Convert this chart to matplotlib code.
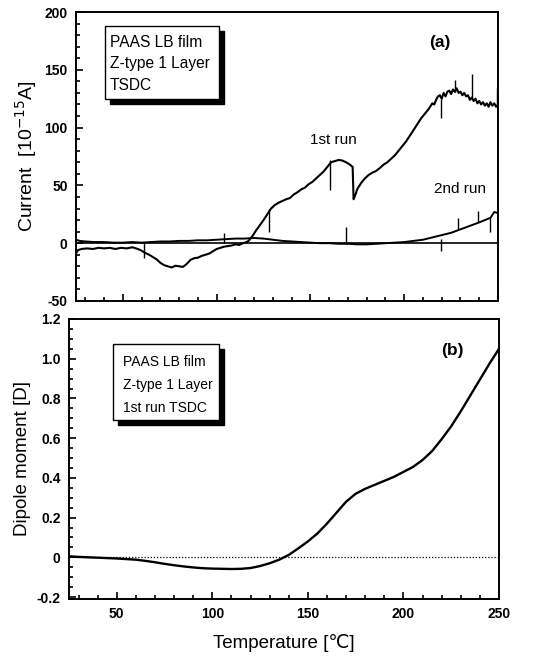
import numpy as np
import matplotlib
matplotlib.use('Agg')
import matplotlib.pyplot as plt
from matplotlib.patches import Rectangle
from matplotlib.ticker import MultipleLocator, FuncFormatter

plt.rcParams['font.family'] = ['Liberation Sans', 'DejaVu Sans']
plt.rcParams['axes.unicode_minus'] = False

# (a) TSDC current, 1st run
run1_T = [25, 26, 28, 31, 34, 37, 40, 43, 46, 49, 52, 55, 58, 60, 62, 64, 66, 68, 70, 72,
          74, 76, 78, 80, 82, 84, 86, 88, 90, 92, 94, 96, 98, 100, 102, 104, 106, 108, 110, 112,
          114, 116, 117, 119, 121, 123, 125, 127, 129, 131, 133, 135, 137, 139, 141, 143, 145, 147, 149, 151,
          153, 155, 157, 159, 161, 163, 165, 167, 169, 171, 172.5, 173, 174, 175, 177, 179, 181, 183, 185, 187,
          189, 191, 193, 195, 197, 199, 201, 203, 205, 207, 209, 211, 213, 215, 216, 217, 218, 219, 220, 221,
          222, 223, 224, 225, 226, 227, 228, 229, 230, 231, 232, 233, 234, 235, 236, 237, 238, 239, 240, 241,
          242, 243, 244, 245, 246, 247, 248, 249, 250]
run1_I = [-9, -6, -5, -4.5, -5, -4, -4.5, -4, -5, -4, -4.5, -3.5, -5, -6.5, -8.5, -10, -12, -14, -17, -19,
          -20, -21, -19.5, -20, -20.5, -18, -14.5, -13, -12.5, -11, -10, -9, -7, -5, -4, -3, -2.5, -2, -1, -1.5,
          0, 1, 2, 6, 11, 15.5, 20, 25, 30, 33, 35, 36.5, 38, 39, 42, 44, 46.5, 48, 51, 53,
          56, 59, 62, 66, 70, 71, 72, 71.5, 70, 68, 66, 38, 42, 47, 52, 56, 59, 61, 62.5, 65,
          68, 70, 73, 76, 80, 84, 88, 93, 98, 103, 108, 112, 116, 121, 120, 124, 127, 128, 125, 130,
          127, 131, 132, 129, 133, 131, 134, 130, 131, 128, 130, 127, 128, 124, 126, 123, 125, 121, 123, 120,
          122, 119, 121, 118, 122, 119, 121, 118, 120]

# (a) TSDC current, 2nd run
run2_T = [25, 27, 30, 35, 40, 45, 50, 55, 60, 65, 70, 75, 80, 85, 90, 95, 100, 105, 110, 115,
          120, 125, 130, 135, 140, 145, 150, 155, 160, 165, 170, 175, 180, 185, 190, 195, 200, 205, 210, 215,
          220, 225, 230, 235, 240, 243, 246, 248, 250]
run2_I = [3, 2, 1.5, 1, 1, 0.5, 0.5, 1, 0.5, 1, 1.5, 1.5, 2, 2, 2.5, 2.5, 3, 3.5, 4, 4,
          4.5, 4, 3, 2, 1.5, 1, 0.5, 0, 0, -0.5, -0.5, -1, -1, -0.5, 0, 0.5, 1, 2, 3, 5,
          7, 9, 12, 15, 18, 20, 22, 27, 26]

# noise spikes
spike_T = [61, 104, 128, 160.3, 169.2, 219.8, 219.8, 227, 228.7, 236, 239.4, 245.5, 249.6]
spike_lo = [-13, 0, 10, 46, -1, 108, -7, 131, 12, 125, 18, 10, 120]
spike_hi = [1, 9, 30, 72, 14, 125, 4, 141, 22, 146, 28, 22, 134]

# (b) dipole moment
dip_T = [25, 30, 35, 40, 45, 50, 55, 60, 65, 70, 75, 80, 85, 90, 95, 100, 105, 110, 115, 120,
         125, 130, 135, 140, 145, 150, 155, 160, 165, 170, 175, 180, 185, 190, 195, 200, 205, 210, 215, 220,
         225, 230, 235, 240, 245, 250]
dip_D = [0.005, 0.002, 0.0, -0.002, -0.004, -0.006, -0.009, -0.012, -0.018, -0.025, -0.033, -0.040, -0.046,
         -0.051, -0.055, -0.057, -0.058, -0.059, -0.058, -0.054, -0.044, -0.030, -0.012, 0.012, 0.045, 0.080,
         0.120, 0.170, 0.225, 0.280, 0.320, 0.345, 0.365, 0.385, 0.405, 0.430, 0.455, 0.490, 0.535, 0.595,
         0.660, 0.735, 0.815, 0.895, 0.975, 1.050]

box_a = ['PAAS LB film', 'Z-type 1 Layer', 'TSDC']
box_b = ['PAAS LB film', 'Z-type 1 Layer', '1st run TSDC']

W, H = 538, 656
fig = plt.figure(figsize=(W / 100, H / 100), dpi=100)

def px_axes(l, t, r, b):
    return fig.add_axes([l / W, 1 - b / H, (r - l) / W, (b - t) / H])

ax1 = px_axes(76, 12, 498, 301)
ax2 = px_axes(69, 319, 499, 599)

def style(ax):
    for s in ax.spines.values():
        s.set_linewidth(1.4)
    ax.tick_params(which='both', direction='in', top=False, right=False, width=1.2)
    ax.tick_params(which='major', length=5, labelsize=10, pad=6)
    ax.tick_params(which='minor', length=3)
    for lab in ax.get_xticklabels() + ax.get_yticklabels():
        lab.set_fontweight('bold')

def shadow_box(ax, x0, y0, x1, y1, dx, dy):
    ax.add_patch(Rectangle((x0 + dx, y0 - dy), x1 - x0, y1 - y0, transform=ax.transAxes,
                           facecolor='black', edgecolor='black', zorder=5))
    ax.add_patch(Rectangle((x0, y0), x1 - x0, y1 - y0, transform=ax.transAxes,
                           facecolor='white', edgecolor='black', lw=1.0, zorder=6))

# ---- panel (a)
ax1.plot(run1_T, run1_I, color='black', lw=1.5)
ax1.plot(run2_T, run2_I, color='black', lw=1.4)
ax1.vlines(spike_T, spike_lo, spike_hi, color='black', lw=1.0)
ax1.axhline(0, color='black', lw=1.2)
ax1.set_xlim(25, 250)
ax1.set_ylim(-50, 200)
ax1.xaxis.set_major_locator(MultipleLocator(50))
ax1.xaxis.set_minor_locator(MultipleLocator(10))
ax1.yaxis.set_major_locator(MultipleLocator(50))
ax1.yaxis.set_minor_locator(MultipleLocator(10))
ax1.set_xticklabels([])
ax1.set_ylabel('Current  [10$^{-15}$A]', fontsize=14, labelpad=4)
style(ax1)

shadow_box(ax1, 0.0687, 0.699, 0.339, 0.952, 0.012, 0.017)
for txt, yy in zip(box_a, [0.896, 0.8235, 0.744]):
    ax1.text(0.0806, yy, txt, transform=ax1.transAxes, fontsize=11.2, va='center', zorder=7)
ax1.text(0.8626, 0.893, '(a)', transform=ax1.transAxes, fontsize=12.5, fontweight='bold',
         ha='center', va='center')
ax1.text(162, 89, '1st run', fontsize=11, ha='center', va='center')
ax1.text(229.7, 47, '2nd run', fontsize=11, ha='center', va='center')

# ---- panel (b)
ax2.plot(dip_T, dip_D, color='black', lw=1.7)
ax2.axhline(0, color='black', lw=0.9, ls=(0, (1, 1.5)))
ax2.set_xlim(25, 250)
ax2.set_ylim(-0.21, 1.2)
ax2.xaxis.set_major_locator(MultipleLocator(50))
ax2.xaxis.set_minor_locator(MultipleLocator(10))
ax2.yaxis.set_major_locator(MultipleLocator(0.2))
ax2.yaxis.set_minor_locator(MultipleLocator(0.05))
ax2.yaxis.set_major_formatter(FuncFormatter(lambda v, p: '0' if abs(v) < 1e-9 else '%.1f' % v))
ax2.set_ylabel('Dipole moment [D]', fontsize=13.5, labelpad=4)
ax2.set_xlabel('Temperature [\u2103]', fontsize=13.5, labelpad=9)
style(ax2)

shadow_box(ax2, 0.102, 0.639, 0.349, 0.911, 0.012, 0.018)
for txt, yy in zip(box_b, [0.846, 0.764, 0.682]):
    ax2.text(0.126, yy, txt, transform=ax2.transAxes, fontsize=10, va='center', zorder=7)
ax2.text(0.891, 0.889, '(b)', transform=ax2.transAxes, fontsize=12.5, fontweight='bold',
         ha='center', va='center')

fig.savefig('out.png', dpi=100)
